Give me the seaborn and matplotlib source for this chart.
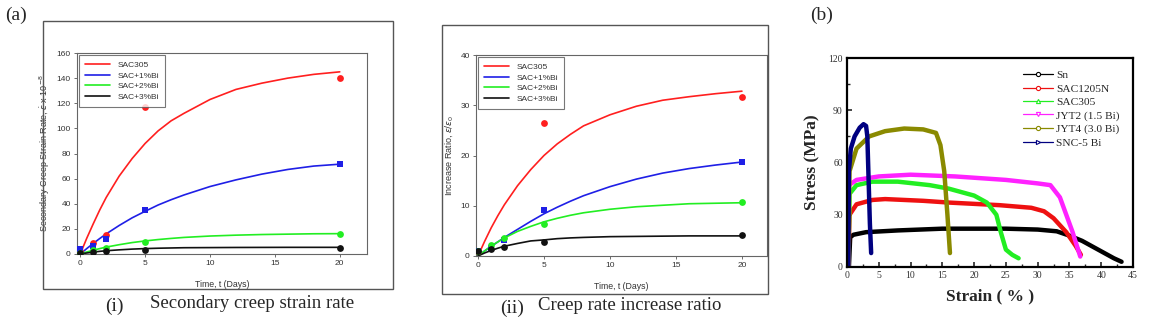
import numpy as np
import pandas as pd
import matplotlib
matplotlib.use("Agg")
import matplotlib.pyplot as plt
from matplotlib.lines import Line2D
from matplotlib.patches import Rectangle
import seaborn as sns

# ---------------- data: panel (i) secondary creep strain rate ----------------
series_a = ["SAC305", "SAC+1%Bi", "SAC+2%Bi", "SAC+3%Bi"]
t_meas = [0, 1, 2, 5, 20]
rate_sac305 = [2, 9, 15, 117, 140]
rate_bi1 = [4, 6, 12, 35, 71.5]
rate_bi2 = [1, 3, 5, 9.5, 16]
rate_bi3 = [1, 1.5, 2, 3.5, 5]

t_fit = [0, 0.5, 1, 1.5, 2, 3, 4, 5, 6, 7, 8, 10, 12, 14, 16, 18, 20]
fit_rate_sac305 = [0, 12.5, 24, 35, 45, 62, 76, 88, 98, 106, 112, 123, 131, 136, 140, 143, 145]
fit_rate_bi1 = [0, 4.3, 8.4, 12.3, 16, 22.7, 28.8, 34, 39, 43.2, 47, 53.7, 59, 63.6, 67.3, 70, 71.5]
fit_rate_bi2 = [0, 1.6, 3.0, 4.3, 5.5, 7.4, 9.1, 10.4, 11.5, 12.4, 13.2, 14.3, 15.0, 15.5, 15.8, 16.1, 16.2]
fit_rate_bi3 = [0, 0.8, 1.5, 2.1, 2.6, 3.3, 3.9, 4.3, 4.6, 4.8, 5.0, 5.1, 5.2, 5.25, 5.3, 5.3, 5.3]

# ---------------- data: panel (ii) creep rate increase ratio ----------------
ratio_sac305 = [1, None, None, 26.5, 31.7]
ratio_bi1 = [1, 1.5, 3.1, 9.1, 18.7]
ratio_bi2 = [1, 2.2, 3.6, 6.4, 10.7]
ratio_bi3 = [1, 1.3, 1.8, 2.7, 4.1]

fit_ratio_sac305 = [0, 2.9, 5.6, 8.0, 10.2, 14.0, 17.2, 20.0, 22.3, 24.2, 25.9, 28.1, 29.8, 31.0, 31.7, 32.3, 32.8]
fit_ratio_bi1 = [0, 1.0, 1.9, 2.8, 3.7, 5.3, 6.9, 8.4, 9.7, 10.9, 12.0, 13.8, 15.3, 16.5, 17.4, 18.1, 18.7]
fit_ratio_bi2 = [0, 1.0, 2.0, 2.8, 3.6, 4.9, 5.9, 6.8, 7.5, 8.1, 8.6, 9.3, 9.8, 10.1, 10.4, 10.5, 10.6]
fit_ratio_bi3 = [0, 0.6, 1.1, 1.55, 1.95, 2.5, 3.0, 3.2, 3.45, 3.6, 3.7, 3.85, 3.9, 3.95, 4.0, 4.0, 4.0]

# ---------------- data: panel (b) stress-strain ----------------
series_b = ["Sn", "SAC1205N", "SAC305", "JYT2 (1.5 Bi)", "JYT4 (3.0 Bi)", "SNC-5 Bi"]
strain_sn = [0.3, 0.5, 1, 3, 8, 15, 25, 30, 33, 35, 37, 39, 41, 42, 43.2]
stress_sn = [0, 17, 18.5, 20, 21, 22, 22, 21.5, 20.5, 18, 15, 11, 7, 5, 3]
strain_sac1205 = [0.2, 0.4, 1.5, 4, 6, 12, 16, 24, 29, 31, 32.5, 34.5, 36, 36.8]
stress_sac1205 = [0, 30, 36, 38.5, 39, 38, 37, 35.5, 34, 32, 28, 20, 12, 7]
strain_sac305 = [0.2, 0.4, 1.5, 4, 8, 13, 16, 20, 22, 23.5, 24.2, 25, 26, 27]
stress_sac305 = [0, 42, 47, 49, 49, 47, 45, 41, 37, 30, 20, 10, 7, 5]
strain_jyt2 = [0.2, 0.3, 1.5, 5, 10, 17, 25, 30, 32, 33.5, 35.5, 36.7]
stress_jyt2 = [0, 47, 50, 52, 53, 52, 50, 48, 47, 40, 20, 6]
strain_jyt4 = [0.2, 0.4, 1.5, 3.5, 6, 9, 12, 14, 14.7, 15.3, 15.8, 16.2]
stress_jyt4 = [0, 55, 68, 75, 78, 79.5, 79, 77, 70, 55, 30, 8]
strain_snc = [0.2, 0.3, 0.6, 1.2, 2.0, 2.6, 3.0, 3.2, 3.4, 3.6, 3.8]
stress_snc = [0, 55, 68, 75, 80, 82, 81, 75, 50, 25, 8]

# ---------------- build frames ----------------
def long_frame(xs, ys_list, names):
    return pd.DataFrame({
        "t": list(xs) * len(names),
        "v": pd.to_numeric(pd.Series(sum(ys_list, [])), errors="coerce"),
        "s": sum([[s] * len(xs) for s in names], []),
    })


meas_rate = long_frame(t_meas, [rate_sac305, rate_bi1, rate_bi2, rate_bi3], series_a)
fit_rate = long_frame(t_fit, [fit_rate_sac305, fit_rate_bi1, fit_rate_bi2, fit_rate_bi3], series_a)
meas_ratio = long_frame(t_meas, [ratio_sac305, ratio_bi1, ratio_bi2, ratio_bi3], series_a)
fit_ratio = long_frame(t_fit, [fit_ratio_sac305, fit_ratio_bi1, fit_ratio_bi2, fit_ratio_bi3], series_a)

strains = [strain_sn, strain_sac1205, strain_sac305, strain_jyt2, strain_jyt4, strain_snc]
stresses = [stress_sn, stress_sac1205, stress_sac305, stress_jyt2, stress_jyt4, stress_snc]
tensile = pd.DataFrame({
    "x": sum(strains, []),
    "y": sum(stresses, []),
    "s": sum([[n] * len(x) for n, x in zip(series_b, strains)], []),
})

pal_a = dict(zip(series_a, ["#ff1f1f", "#1f1fe6", "#22ee22", "#111111"]))
mk_a = dict(zip(series_a, ["o", "s", "o", "o"]))
pal_b = dict(zip(series_b, ["#000000", "#ee1111", "#22ee22", "#ff22ff", "#8a8a00", "#000080"]))
mk_b = dict(zip(series_b, ["o", "o", "^", "v", "o", ">"]))

sns.set_theme(style="white")
plt.rcParams["font.family"] = ["Liberation Sans", "DejaVu Sans"]

W, H = 1171, 331
fig = plt.figure(figsize=(W / 100, H / 100), dpi=100)


def ax_rect(l, r, t, b):
    return [l / W, 1 - b / H, (r - l) / W, (b - t) / H]


# outer frames of (i) and (ii)
for (l, r, t, b) in [(43, 393, 21, 289), (442, 768, 25, 294)]:
    fig.patches.append(Rectangle((l / W, 1 - b / H), (r - l) / W, (b - t) / H,
                                 transform=fig.transFigure, fill=False,
                                 edgecolor="#555555", lw=1.0))


def creep_panel(rect, meas, fit, ylim, yticks, ylabel, xlim):
    ax = fig.add_axes(rect)
    sns.lineplot(data=fit, x="t", y="v", hue="s", palette=pal_a, ax=ax,
                 lw=1.2, estimator=None, sort=False)
    for s in series_a:
        sub = meas[(meas.s == s) & meas.v.notna()]
        sns.scatterplot(data=sub, x="t", y="v", color=pal_a[s], marker=mk_a[s],
                        s=24, edgecolor=pal_a[s], linewidth=0, ax=ax, zorder=3)
    ax.set_xlim(*xlim)
    ax.set_ylim(*ylim)
    ax.set_xticks([0, 5, 10, 15, 20])
    ax.set_yticks(yticks)
    ax.tick_params(axis="both", labelsize=6, length=2.5, width=0.6,
                   color="#555555", labelcolor="#333333", direction="out", pad=2)
    ax.tick_params(bottom=True, left=True)
    for sp in ax.spines.values():
        sp.set_color("#666666")
        sp.set_linewidth(0.8)
    ax.set_xlabel("Time, t (Days)", fontsize=6.3, color="#333333", labelpad=9)
    ax.set_ylabel(ylabel, fontsize=6.5, color="#333333", labelpad=3)
    handles = [Line2D([], [], color=pal_a[s], lw=1.2) for s in series_a]
    leg = ax.legend(handles, series_a, loc="upper left", fontsize=6,
                    frameon=True, fancybox=False, edgecolor="#555555",
                    borderpad=0.7, handlelength=3.0, labelspacing=0.35,
                    borderaxespad=0.25, handletextpad=0.9)
    leg.get_frame().set_linewidth(0.8)
    for txt in leg.get_texts():
        txt.set_color("#333333")
    return ax


creep_panel(ax_rect(77, 367, 53, 254), meas_rate, fit_rate, (0, 160),
            [0, 20, 40, 60, 80, 100, 120, 140, 160],
            r"Secondary Creep Strain Rate, $\dot{\varepsilon}$ x 10$^{-8}$", (-0.25, 22.1))
creep_panel(ax_rect(476, 767, 55, 256), meas_ratio, fit_ratio, (0, 40),
            [0, 10, 20, 30, 40],
            r"Increase Ratio, $\dot{\varepsilon}/\dot{\varepsilon}_0$", (-0.15, 21.9))

# ---------------- panel (b) ----------------
axb = fig.add_axes(ax_rect(847, 1133, 58, 267))
sns.lineplot(data=tensile, x="x", y="y", hue="s", palette=pal_b, ax=axb,
             lw=3.2, estimator=None, sort=False, legend=False)
axb.set_xlim(0, 45)
axb.set_ylim(0, 120)
axb.set_xticks(range(0, 46, 5))
axb.set_yticks([0, 30, 60, 90, 120])
axb.set_xticks(np.arange(2.5, 45, 5), minor=True)
axb.set_yticks([15, 45, 75, 105], minor=True)
serif = ["Liberation Serif", "DejaVu Serif"]
axb.tick_params(axis="both", which="major", direction="in", length=3.5, width=1.2,
                labelsize=7, pad=3, bottom=True, left=True)
axb.tick_params(axis="both", which="minor", direction="in", length=2, width=1.0,
                bottom=True, left=True)
for lab in axb.get_xticklabels() + axb.get_yticklabels():
    lab.set_fontfamily(serif)
    lab.set_color("#333333")
for sp in axb.spines.values():
    sp.set_color("black")
    sp.set_linewidth(1.6)
axb.set_xlabel("Strain ( % )", fontsize=12.5, fontweight="bold", family=serif, labelpad=6)
axb.set_ylabel("Stress (MPa)", fontsize=12.5, fontweight="bold", family=serif, labelpad=6)
hb = [Line2D([], [], color=pal_b[s], lw=0.9, marker=mk_b[s], markersize=3,
             markerfacecolor="white", markeredgecolor=pal_b[s], markeredgewidth=0.8)
      for s in series_b]
legb = axb.legend(hb, series_b, loc="upper right", frameon=False,
                  prop={"family": serif, "size": 8.2}, handlelength=2.6,
                  labelspacing=0.3, borderaxespad=0.4, handletextpad=0.3,
                  bbox_to_anchor=(0.985, 0.985))

# ---------------- captions ----------------
fig.text(5 / W, 1 - 15 / H, "(a)", fontsize=14, family=serif, va="center", ha="left")
fig.text(810 / W, 1 - 15 / H, "(b)", fontsize=14, family=serif, va="center", ha="left")
fig.text(105 / W, 1 - 306 / H, "(i)", fontsize=14, family=serif, va="center", ha="left")
fig.text(150 / W, 1 - 303 / H, "Secondary creep strain rate", fontsize=13.5, family=serif,
         va="center", ha="left")
fig.text(500 / W, 1 - 308 / H, "(ii)", fontsize=14, family=serif, va="center", ha="left")
fig.text(538 / W, 1 - 305 / H, "Creep rate increase ratio", fontsize=13.5, family=serif,
         va="center", ha="left")

fig.savefig("out.png", dpi=100)
